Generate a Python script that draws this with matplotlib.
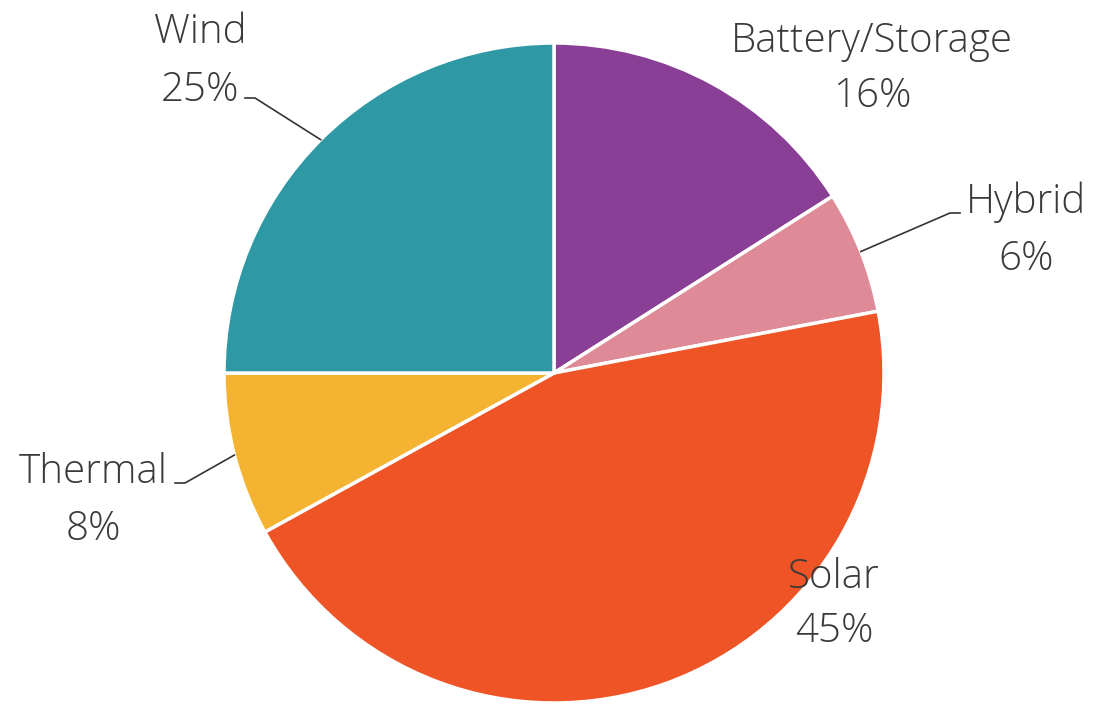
import numpy as np
import matplotlib.pyplot as plt

# share of capacity by resource type
categories = ['Battery/Storage', 'Hybrid', 'Solar', 'Thermal', 'Wind']
shares = [16, 6, 45, 8, 25]
colors = ['#8a3f96', '#df8a97', '#ee5426', '#f4b330', '#2f98a5']

W, H = 1099, 704
fig = plt.figure(figsize=(W / 100, H / 100), dpi=100)
ax = fig.add_axes([0, 0, 1, 1])

cx, cy, r = 554, H - 373, 330
wedges, _ = ax.pie(shares, colors=colors, startangle=90, counterclock=False,
                   center=(cx, cy), radius=r,
                   wedgeprops=dict(edgecolor='white', linewidth=2.5))
ax.set_xlim(0, W)
ax.set_ylim(0, H)
ax.set_aspect('equal')
ax.axis('off')

# label layout: (x centre, name baseline, pct baseline) in pixel rows from top,
# plus optional leader elbow (x, y) and stub end x
labels = {
    'Battery/Storage': (872, 52, 107, None),
    'Hybrid': (1026, 213, 270, ((950, 213), 960)),
    'Solar': (834, 588, 642, None),
    'Thermal': (93, 483, 540, ((185, 483), 175)),
    'Wind': (200, 43, 101, ((255, 98), 245)),
}
font = dict(family=['Open Sans', 'DejaVu Sans'], fontsize=29, color='#3a3a3a',
            fontweight='light', ha='center', va='baseline')

for w, name, val in zip(wedges, categories, shares):
    x, y1, y2, leader = labels[name]
    ax.text(x, H - y1, name, **font)
    ax.text(x, H - y2, f'{val}%', **font)
    if leader:
        mid = np.deg2rad((w.theta1 + w.theta2) / 2)
        ex, ey = cx + r * np.cos(mid), cy + r * np.sin(mid)
        (bx, by), sx = leader
        ax.plot([ex, bx, sx], [ey, H - by, H - by], color='#333333', lw=1.2)

fig.savefig('out.png', dpi=100, facecolor='white')
